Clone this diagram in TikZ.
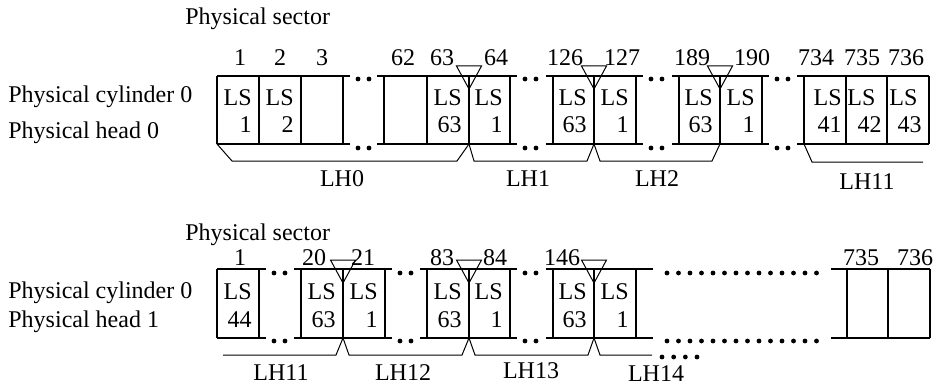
\documentclass[tikz,border=0pt]{standalone}
\usepackage{fontspec}
\setmainfont{Liberation Serif}
\usetikzlibrary{positioning}

\begin{document}
\begin{tikzpicture}[x=0.5pt,y=-0.5pt,font=\fontsize{12pt}{14pt}\selectfont,
  wall/.style={line width=0.8pt},
  rim/.style={line width=0.55pt},
  brace/.style={line width=0.5pt},
  lbl/.style={inner sep=0pt,anchor=base},
  dotmark/.style={fill,circle,inner sep=0pt,minimum size=2.4pt}]
  \useasboundingbox (0,0) rectangle (936,385);

  \node[lbl,anchor=base west] (sec0) at (185,25){Physical sector};
  \node[lbl,anchor=base west] (cyl0) at (8,103){Physical cylinder 0};
  \node[lbl,anchor=base west] (head0) at (8,139){Physical head 0};
  \node[lbl,anchor=base west] (sec1) at (185,240){Physical sector};
  \node[lbl,anchor=base west] (cyl1) at (8,298){Physical cylinder 0};
  \node[lbl,anchor=base west] (head1) at (8,327){Physical head 1};

  % upper track
  \foreach \a/\b in {217/350, 377/517, 546/643, 672/769, 797/929}{
    \draw[rim] (\a,76) -- (\b,76);
    \draw[rim] (\a,144) -- (\b,144);
  }
  \foreach \x in {217,259,301,343,384,427,469,510,553,594,636,679,720,762,804,846,887,929}
    \draw[wall] (\x,76) -- (\x,144);
  \foreach \x in {343,510,636,762}{
    \foreach \d in {15,26}{
      \node[dotmark] at (\x+\d,79){};
      \node[dotmark] at (\x+\d,148){};
    }
  }
  \foreach \n/\x in {1/240, 2/280, 3/322, 62/403, 63/442, 64/496, 126/565, 127/622, 189/692, 190/752, 734/816, 735/862, 736/906}
    \node[lbl] (up\n) at (\x,66){\n};
  \foreach \r/\v in {259/1, 301/2, 469/63, 510/1, 594/63, 636/1, 720/63, 762/1}{
    \node[lbl,anchor=base east] (ls\r) at (\r-7,105){LS};
    \node[lbl,anchor=base east] (no\r) at (\r-7,133){\v};
  }
  \node[lbl,anchor=base east] (ls846) at (842,105){LS};
  \node[lbl,anchor=base east] (no846) at (842,133){41};
  \node[lbl,anchor=base west] (ls887) at (847,105){LS};
  \node[lbl,anchor=base east] (no887) at (882,133){42};
  \node[lbl,anchor=base west] (ls929) at (889,105){LS};
  \node[lbl,anchor=base east] (no929) at (922,133){43};
  \foreach \x in {469,594,720}
    \draw[brace] (\x-12.5,66) -- (\x+12.5,66) -- (\x,89) -- cycle;
  \draw[brace] (217,144) -- (232,161) -- (457,161) -- (469,144);
  \draw[brace] (469,144) -- (474,161) -- (587,161) -- (594,144);
  \draw[brace] (594,144) -- (600,161) -- (712,161) -- (720,144);
  \draw[brace] (804,144) -- (812,162) -- (923,162);
  \node[lbl] (lh0) at (342,186){LH0};
  \node[lbl] (lh1) at (528,186){LH1};
  \node[lbl] (lh2) at (657,186){LH2};
  \node[lbl] (lh11a) at (867,189){LH11};

  % lower track
  \foreach \a/\b in {217/266, 294/392, 420/517, 546/653, 831/930}{
    \draw[rim] (\a,269) -- (\b,269);
    \draw[rim] (\a,338) -- (\b,338);
  }
  \foreach \x in {217,259,301,343,385,427,469,510,553,594,636,847,888,930}
    \draw[wall] (\x,269) -- (\x,338);
  \foreach \x in {259,385,510}{
    \foreach \d in {15,26}{
      \node[dotmark] at (\x+\d,273){};
      \node[dotmark] at (\x+\d,341){};
    }
  }
  \foreach \i in {0,...,13}{
    \node[dotmark] at (667+11.5*\i,273){};
    \node[dotmark] at (667+11.5*\i,341){};
  }
  \foreach \n/\x in {1/240, 20/314, 21/363, 83/442, 84/495, 146/562, 735/861, 736/915}
    \node[lbl] (dn\n) at (\x,265){\n};
  \foreach \r/\v in {259/44, 343/63, 385/1, 469/63, 510/1, 594/63, 636/1}{
    \node[lbl,anchor=base east] (lsb\r) at (\r-7,299){LS};
    \node[lbl,anchor=base east] (nob\r) at (\r-7,327){\v};
  }
  \foreach \x in {343,469,594}
    \draw[brace] (\x-12.5,260) -- (\x+12.5,260) -- (\x,283) -- cycle;
  \draw[brace] (223,355) -- (336,355) -- (343,338);
  \draw[brace] (343,338) -- (349,355) -- (462,355) -- (469,338);
  \draw[brace] (469,338) -- (475,355) -- (588,355) -- (594,338);
  \draw[brace] (594,338) -- (600,355) -- (652,355);
  \foreach \i in {0,...,3}
    \node[dotmark] at (662+11.67*\i,357){};
  \node[lbl] (lh11b) at (281,380){LH11};
  \node[lbl] (lh12) at (403,380){LH12};
  \node[lbl] (lh13) at (531,378){LH13};
  \node[lbl] (lh14) at (656,381){LH14};
\end{tikzpicture}
\end{document}
